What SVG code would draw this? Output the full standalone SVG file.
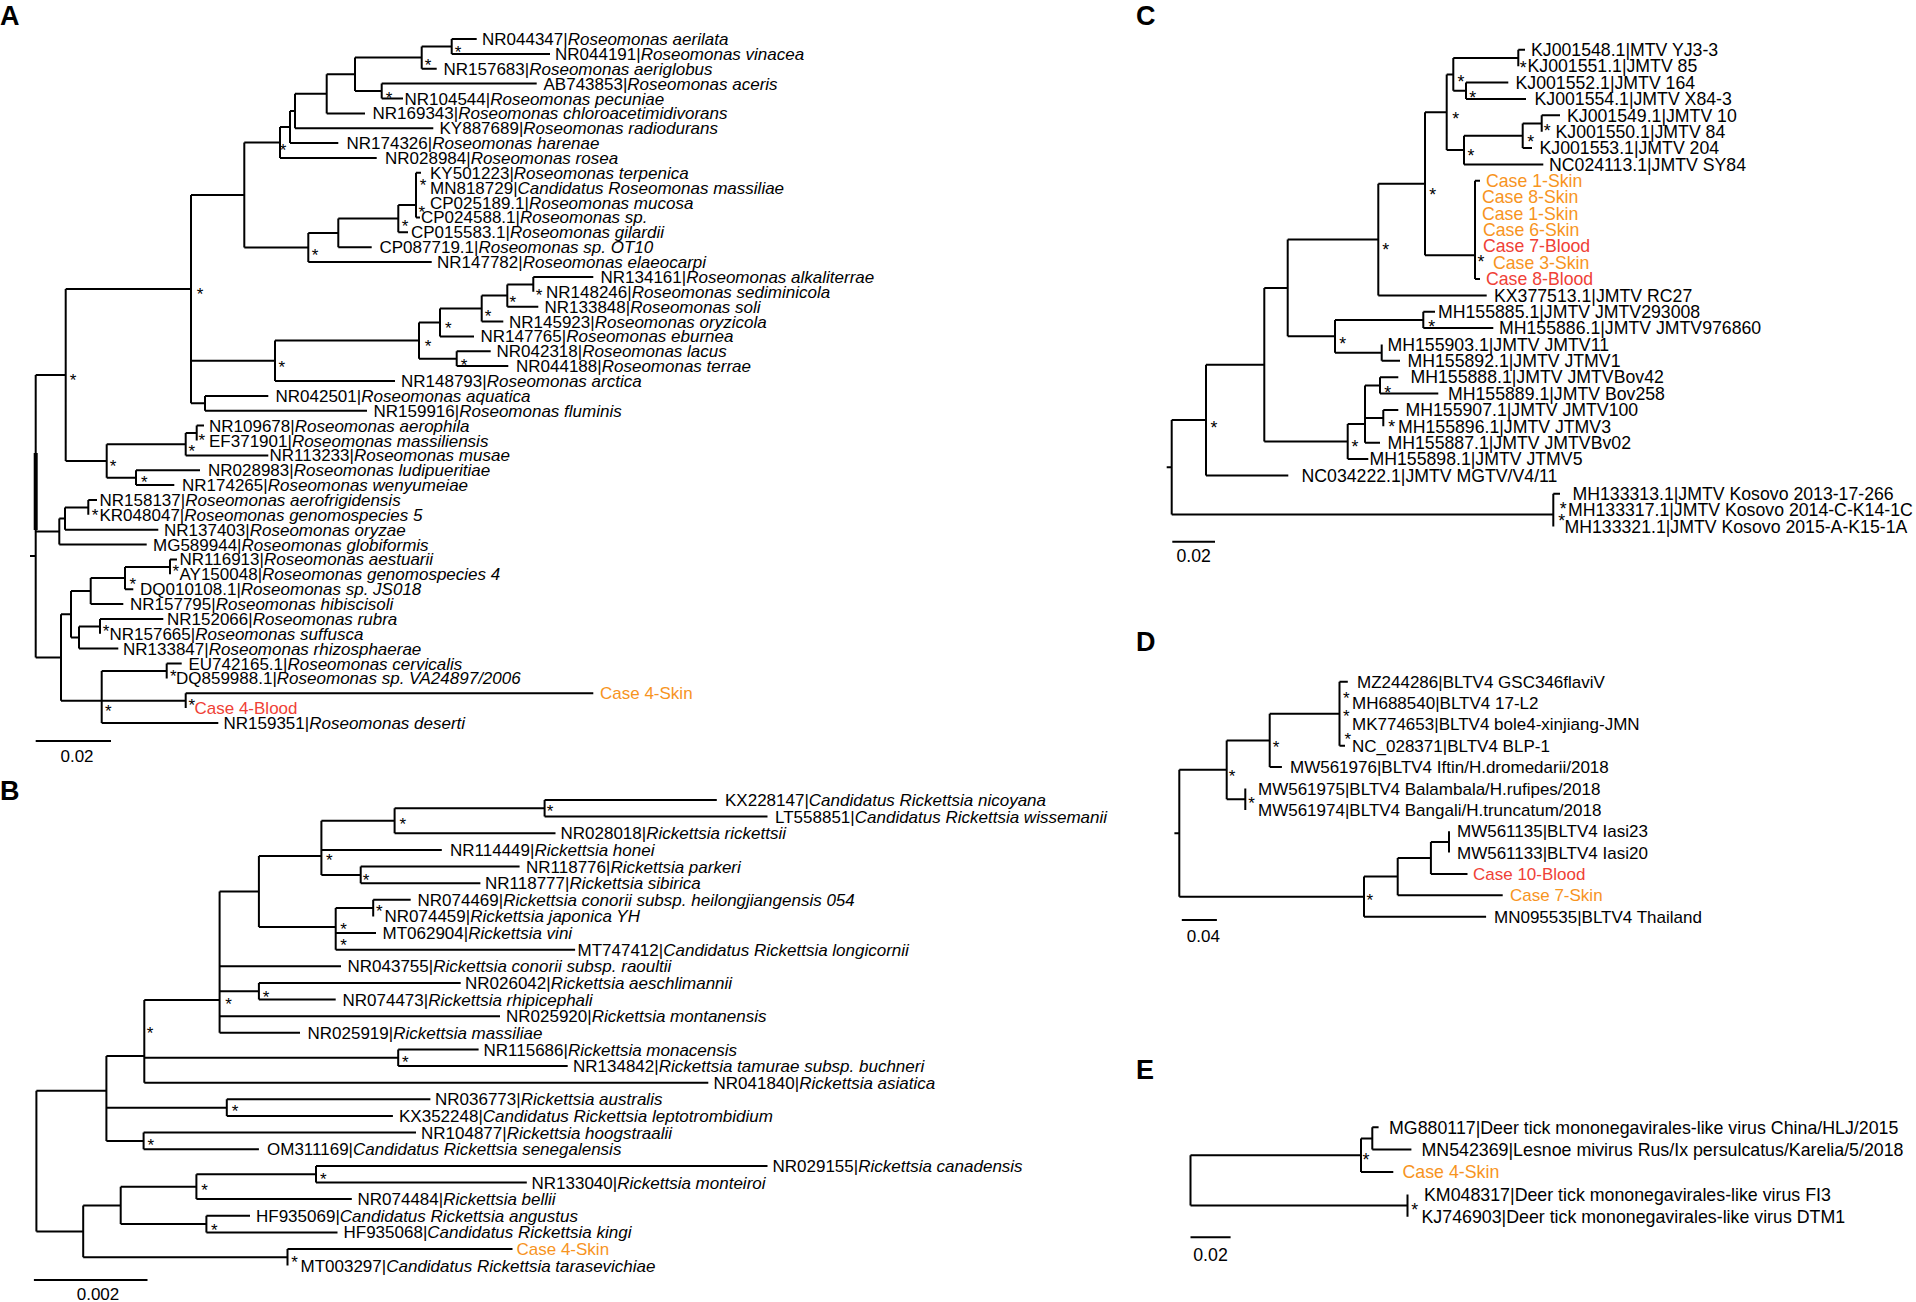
<svg xmlns="http://www.w3.org/2000/svg" width="1916" height="1302" viewBox="0 0 1916 1302">
<style>
text{font-family:"Liberation Sans",Arial,Helvetica,sans-serif;font-size:17px;fill:#000}
.c text{font-size:17.7px}
.e text{font-size:17.8px}
.i{font-style:italic}
.o{fill:#F7941E}
.r{fill:#EF4136}
.a{text-anchor:middle}
.m{text-anchor:middle}
g text.lbl{font-weight:bold;font-size:27px}
path{fill:none;stroke:#000;stroke-width:2}
</style>
<rect width="1916" height="1302" fill="#fff"/>

<!-- ===== Panel A ===== -->
<g id="panelA">
<text class="lbl" x="0" y="25">A</text>
<g id="A-connectors">
<path d="M451.7 39H476.7M451.7 53.9H550M421.7 68.7H436.7M381.7 83.6H536.7M381.7 98.5H403M326.7 113.4H365M295 128.2H433.3M290 143.1H338.3M280 158H376.7M416 172.8H421M416 217.4H420M398.3 232.3H408M338.3 247.2H371.7M308.3 262.1H431.7M533.3 276.9H593.3M507.3 306.7H538.3M481.7 321.5H503.3M440 336.4H474M456.7 351.3H490.7M456.7 366.1H508.3M275 381H395M205 395.9H268.3M205 410.7H367M196.7 425.6H204M185.7 455.4H268.3M136 470.2H200M136 485.1H174.3M88.3 500H97M65 529.7H158.3M59.3 544.6H146.7M170 559.4H177M125 589.2H133.3M90.7 604H123.3M100 618.9H163.3M79 648.6H118.3M166.7 663.5H181.7M185.7 693.3H593.3M101.7 723H218.3"/>
<path d="M421.7 46.4H451.7M451.7 39V53.9M355 57.6H421.7M421.7 46.4V68.7M355 91.1H381.7M381.7 83.6V98.5M326.7 74.3H355M355 57.6V91.1M295 93.8H326.7M326.7 74.3V113.4M290 111H295M295 93.8V128.2M280 127H290M290 111V143.1M244.3 142.5H280M280 127V158M398.3 205H416M416 172.8V217.4M338.3 218.6H398.3M398.3 205V232.3M308.3 232.9H338.3M338.3 218.6V247.2M244.3 247.5H308.3M308.3 232.9V262.1M191 195H244.3M244.3 142.5V247.5M507.3 284.4H533.3M533.3 276.9V291.8M481.7 295.5H507.3M507.3 284.4V306.7M440 308.5H481.7M481.7 295.5V321.5M419 322.5H440M440 308.5V336.4M419 358.7H456.7M456.7 351.3V366.1M275 340.6H419M419 322.5V358.7M191 360.8H275M275 340.6V381M191 403.3H205M205 395.9V410.7M65.7 289H191M191 195V403.3M185.7 433H196.7M196.7 425.6V440.5M106.7 444.2H185.7M185.7 433V455.4M106.7 477.7H136M136 470.2V485.1M65.7 461H106.7M106.7 444.2V477.7M35.7 375H65.7M65.7 289V461M65 507.4H88.3M88.3 500V514.8M59.3 518.6H65M65 507.4V529.7M35.7 531.6H59.3M59.3 518.6V544.6M125 566.9H170M170 559.4V574.3M90.7 578H125M125 566.9V589.2M71 591H90.7M90.7 578V604M79 626.4H100M100 618.9V633.8M71 637.5H79M79 626.4V648.6M61 614.3H71M71 591V637.5M101.7 671H166.7M166.7 663.5V678.4M101.7 700.7H185.7M185.7 693.3V708.1M61 700.7H101.7M101.7 671V723M35.7 657.5H61M61 614.3V700.7M35.7 375V657.5M30 556H35.7"/>
<path d="M35.7 453V530" style="stroke-width:4"/>
<path d="M35.7 741H111"/>
</g>
<g id="A-support">
<text class="a" x="458" y="58">*</text><text class="a" x="428" y="71">*</text><text class="a" x="389" y="104">*</text><text class="a" x="283" y="156">*</text><text class="a" x="200" y="300">*</text><text class="a" x="73" y="386">*</text><text class="a" x="315" y="261">*</text><text class="a" x="405" y="232">*</text><text class="a" x="421.7" y="218">*</text><text class="a" x="423" y="191">*</text><text class="a" x="539" y="301">*</text><text class="a" x="512.7" y="308">*</text><text class="a" x="488" y="322">*</text><text class="a" x="448.3" y="334">*</text><text class="a" x="428" y="352">*</text><text class="a" x="464" y="370.7">*</text><text class="a" x="281.7" y="373.3">*</text><text class="a" x="113" y="472">*</text><text class="a" x="201.7" y="445.7">*</text><text class="a" x="191.7" y="457">*</text><text class="a" x="144.3" y="488">*</text><text class="a" x="95" y="521">*</text><text class="a" x="175.7" y="577">*</text><text class="a" x="132.7" y="589.7">*</text><text class="a" x="106" y="637">*</text><text class="a" x="173.3" y="681.7">*</text><text class="a" x="191.7" y="710.7">*</text><text class="a" x="108.3" y="717">*</text>
</g>
<g id="A-leaves">
<text x="482" y="45">NR044347|<tspan class="i">Roseomonas aerilata</tspan></text>
<text x="555" y="59.9">NR044191|<tspan class="i">Roseomonas vinacea</tspan></text>
<text x="443.5" y="74.7">NR157683|<tspan class="i">Roseomonas aeriglobus</tspan></text>
<text x="543.5" y="89.6">AB743853|<tspan class="i">Roseomonas aceris</tspan></text>
<text x="404.5" y="104.5">NR104544|<tspan class="i">Roseomonas pecuniae</tspan></text>
<text x="372.5" y="119.4">NR169343|<tspan class="i">Roseomonas chloroacetimidivorans</tspan></text>
<text x="439.5" y="134.2">KY887689|<tspan class="i">Roseomonas radiodurans</tspan></text>
<text x="346.5" y="149.1">NR174326|<tspan class="i">Roseomonas harenae</tspan></text>
<text x="385" y="164">NR028984|<tspan class="i">Roseomonas rosea</tspan></text>
<text x="430" y="178.8">KY501223|<tspan class="i">Roseomonas terpenica</tspan></text>
<text x="430" y="193.7">MN818729|<tspan class="i">Candidatus Roseomonas massiliae</tspan></text>
<text x="430" y="208.6">CP025189.1|<tspan class="i">Roseomonas mucosa</tspan></text>
<text x="421" y="223.4">CP024588.1|<tspan class="i">Roseomonas sp.</tspan></text>
<text x="411" y="238.3">CP015583.1|<tspan class="i">Roseomonas gilardii</tspan></text>
<text x="379.5" y="253.2">CP087719.1|<tspan class="i">Roseomonas sp. OT10</tspan></text>
<text x="437" y="268.1">NR147782|<tspan class="i">Roseomonas elaeocarpi</tspan></text>
<text x="600.5" y="282.9">NR134161|<tspan class="i">Roseomonas alkaliterrae</tspan></text>
<text x="546" y="297.8">NR148246|<tspan class="i">Roseomonas sediminicola</tspan></text>
<text x="544.5" y="312.7">NR133848|<tspan class="i">Roseomonas soli</tspan></text>
<text x="509" y="327.5">NR145923|<tspan class="i">Roseomonas oryzicola</tspan></text>
<text x="480.5" y="342.4">NR147765|<tspan class="i">Roseomonas eburnea</tspan></text>
<text x="496.5" y="357.3">NR042318|<tspan class="i">Roseomonas lacus</tspan></text>
<text x="516" y="372.1">NR044188|<tspan class="i">Roseomonas terrae</tspan></text>
<text x="401" y="387">NR148793|<tspan class="i">Roseomonas arctica</tspan></text>
<text x="275.5" y="401.9">NR042501|<tspan class="i">Roseomonas aquatica</tspan></text>
<text x="373.5" y="416.7">NR159916|<tspan class="i">Roseomonas fluminis</tspan></text>
<text x="209" y="431.6">NR109678|<tspan class="i">Roseomonas aerophila</tspan></text>
<text x="209" y="446.5">EF371901|<tspan class="i">Roseomonas massiliensis</tspan></text>
<text x="269.5" y="461.4">NR113233|<tspan class="i">Roseomonas musae</tspan></text>
<text x="208" y="476.2">NR028983|<tspan class="i">Roseomonas ludipueritiae</tspan></text>
<text x="182" y="491.1">NR174265|<tspan class="i">Roseomonas wenyumeiae</tspan></text>
<text x="99.5" y="506">NR158137|<tspan class="i">Roseomonas aerofrigidensis</tspan></text>
<text x="99.5" y="520.8">KR048047|<tspan class="i">Roseomonas genomospecies 5</tspan></text>
<text x="164" y="535.7">NR137403|<tspan class="i">Roseomonas oryzae</tspan></text>
<text x="153" y="550.6">MG589944|<tspan class="i">Roseomonas globiformis</tspan></text>
<text x="179.5" y="565.4">NR116913|<tspan class="i">Roseomonas aestuarii</tspan></text>
<text x="179.5" y="580.3">AY150048|<tspan class="i">Roseomonas genomospecies 4</tspan></text>
<text x="140" y="595.2">DQ010108.1|<tspan class="i">Roseomonas sp. JS018</tspan></text>
<text x="130" y="610">NR157795|<tspan class="i">Roseomonas hibiscisoli</tspan></text>
<text x="167" y="624.9">NR152066|<tspan class="i">Roseomonas rubra</tspan></text>
<text x="109.5" y="639.8">NR157665|<tspan class="i">Roseomonas suffusca</tspan></text>
<text x="123" y="654.6">NR133847|<tspan class="i">Roseomonas rhizosphaerae</tspan></text>
<text x="188.5" y="669.5">EU742165.1|<tspan class="i">Roseomonas cervicalis</tspan></text>
<text x="176" y="684.4">DQ859988.1|<tspan class="i">Roseomonas sp. VA24897/2006</tspan></text>
<text class="o" x="600" y="699.3">Case 4-Skin</text>
<text class="r" x="194.5" y="714.1">Case 4-Blood</text>
<text x="223.5" y="729">NR159351|<tspan class="i">Roseomonas deserti</tspan></text>
<text class="m" x="77" y="761.7">0.02</text>
</g>
</g>

<!-- ===== Panel B ===== -->
<g id="panelB">
<text class="lbl" x="0" y="800">B</text>
<g id="B-connectors">
<path d="M544.6 800H716.8M544.6 816.6H767.5M394.6 833.3H555.5M321.4 849.9H441.8M360.7 866.5H519.6M360.7 883.2H480.4M373.2 899.8H410.7M335.7 933H376M335.7 949.7H575.1M219.6 966.3H341M258.9 982.9H460.7M258.9 999.6H335.7M219.6 1016.2H500M219.6 1032.8H300M398.2 1049.5H478.6M398.2 1066.1H567.7M144.3 1082.7H708.3M226.8 1099.3H430.4M226.8 1116H392.9M143.6 1132.6H416M143.6 1149.2H258.9M316 1165.9H767.5M316 1182.5H526.8M196.4 1199.1H351.8M206.4 1215.8H250M206.4 1232.4H337.5M287.5 1249H512.5"/>
<path d="M394.6 808.3H544.6M544.6 800V816.6M321.4 820.8H394.6M394.6 808.3V833.3M321.4 874.9H360.7M360.7 866.5V883.2M258.9 856H321.4M321.4 820.8V874.9M335.7 908.1H373.2M373.2 899.8V916.4M258.9 927H335.7M335.7 908.1V949.7M219.6 891.5H258.9M258.9 856V927M219.6 991.3H258.9M258.9 982.9V999.6M144.3 1000H219.6M219.6 891.5V1032.8M144.3 1057.8H398.2M398.2 1049.5V1066.1M106.4 1056H144.3M144.3 1000V1082.7M106.4 1107.7H226.8M226.8 1099.3V1116M106.4 1140.9H143.6M143.6 1132.6V1149.2M36.4 1090.7H106.4M106.4 1056V1140.9M196.4 1174.2H316M316 1165.9V1182.5M120.7 1186.7H196.4M196.4 1174.2V1199.1M120.7 1224.1H206.4M206.4 1215.8V1232.4M83.2 1205.4H120.7M120.7 1186.7V1224.1M83.2 1257.3H287.5M287.5 1249V1265.6M36.4 1231.4H83.2M83.2 1205.4V1257.3M36.4 1090.7V1231.4"/>
<path d="M33.9 1280H147.5"/>
</g>
<g id="B-support">
<text class="a" x="550" y="817.3">*</text><text class="a" x="402.9" y="829.7">*</text><text class="a" x="329.3" y="866.3">*</text><text class="a" x="366" y="885.7">*</text><text class="a" x="379.3" y="916.7">*</text><text class="a" x="343.6" y="934.7">*</text><text class="a" x="343.6" y="951.3">*</text><text class="a" x="228.6" y="1009.7">*</text><text class="a" x="266" y="1003">*</text><text class="a" x="150" y="1039">*</text><text class="a" x="405.4" y="1068.3">*</text><text class="a" x="235" y="1117.3">*</text><text class="a" x="150.7" y="1150.7">*</text><text class="a" x="204.6" y="1196.3">*</text><text class="a" x="323.2" y="1185">*</text><text class="a" x="214.3" y="1235.7">*</text><text class="a" x="294.6" y="1268">*</text>
</g>
<g id="B-leaves">
<text x="725" y="806">KX228147|<tspan class="i">Candidatus Rickettsia nicoyana</tspan></text>
<text x="775" y="822.6">LT558851|<tspan class="i">Candidatus Rickettsia wissemanii</tspan></text>
<text x="560.5" y="839.3">NR028018|<tspan class="i">Rickettsia rickettsii</tspan></text>
<text x="450" y="855.9">NR114449|<tspan class="i">Rickettsia honei</tspan></text>
<text x="526" y="872.5">NR118776|<tspan class="i">Rickettsia parkeri</tspan></text>
<text x="485" y="889.2">NR118777|<tspan class="i">Rickettsia sibirica</tspan></text>
<text x="417.5" y="905.8">NR074469|<tspan class="i">Rickettsia conorii subsp. heilongjiangensis 054</tspan></text>
<text x="384.5" y="922.4">NR074459|<tspan class="i">Rickettsia japonica YH</tspan></text>
<text x="382.5" y="939">MT062904|<tspan class="i">Rickettsia vini</tspan></text>
<text x="577.5" y="955.7">MT747412|<tspan class="i">Candidatus Rickettsia longicornii</tspan></text>
<text x="347.5" y="972.3">NR043755|<tspan class="i">Rickettsia conorii subsp. raoultii</tspan></text>
<text x="465" y="988.9">NR026042|<tspan class="i">Rickettsia aeschlimannii</tspan></text>
<text x="342.5" y="1005.6">NR074473|<tspan class="i">Rickettsia rhipicephali</tspan></text>
<text x="506" y="1022.2">NR025920|<tspan class="i">Rickettsia montanensis</tspan></text>
<text x="307.5" y="1038.8">NR025919|<tspan class="i">Rickettsia massiliae</tspan></text>
<text x="483.5" y="1055.5">NR115686|<tspan class="i">Rickettsia monacensis</tspan></text>
<text x="573" y="1072.1">NR134842|<tspan class="i">Rickettsia tamurae subsp. buchneri</tspan></text>
<text x="713.5" y="1088.7">NR041840|<tspan class="i">Rickettsia asiatica</tspan></text>
<text x="435" y="1105.3">NR036773|<tspan class="i">Rickettsia australis</tspan></text>
<text x="399" y="1122">KX352248|<tspan class="i">Candidatus Rickettsia leptotrombidium</tspan></text>
<text x="421" y="1138.6">NR104877|<tspan class="i">Rickettsia hoogstraalii</tspan></text>
<text x="267" y="1155.2">OM311169|<tspan class="i">Candidatus Rickettsia senegalensis</tspan></text>
<text x="772.5" y="1171.9">NR029155|<tspan class="i">Rickettsia canadensis</tspan></text>
<text x="531.5" y="1188.5">NR133040|<tspan class="i">Rickettsia monteiroi</tspan></text>
<text x="357.5" y="1205.1">NR074484|<tspan class="i">Rickettsia bellii</tspan></text>
<text x="256" y="1221.8">HF935069|<tspan class="i">Candidatus Rickettsia angustus</tspan></text>
<text x="343.5" y="1238.4">HF935068|<tspan class="i">Candidatus Rickettsia kingi</tspan></text>
<text class="o" x="516.5" y="1255">Case 4-Skin</text>
<text x="300.5" y="1271.6">MT003297|<tspan class="i">Candidatus Rickettsia tarasevichiae</tspan></text>
<text class="m" x="98" y="1300">0.002</text>
</g>
</g>

<!-- ===== Panel C ===== -->
<g id="panelC" class="c">
<text class="lbl" x="1136" y="25">C</text>
<g id="C-connectors">
<path d="M1518.3 49.8H1525M1466 82.5H1508.3M1466 98.9H1526M1541.7 115.3H1560M1522.7 148H1532M1464 164.4H1543.3M1475 180.8H1480M1475 279H1480M1378.3 295.4H1486.7M1423.3 311.7H1435M1423.3 328.1H1493.3M1381.7 360.8H1400M1380 377.2H1398.3M1380 393.6H1438.3M1383.3 409.9H1398.3M1365 442.7H1380M1347.7 459H1368.3M1206 475.4H1288.3M1553.3 493.8H1560"/>
<path d="M1453.3 58H1518.3M1518.3 49.8V66.2M1453.3 90.7H1466M1466 82.5V98.9M1446.7 74.4H1453.3M1453.3 58V90.7M1522.7 123.5H1541.7M1541.7 115.3V131.7M1464 135.8H1522.7M1522.7 123.5V148M1446.7 150.1H1464M1464 135.8V164.4M1425 112.3H1446.7M1446.7 74.4V150.1M1425 255.3H1475M1475 180.8V279M1378.3 183.8H1425M1425 112.3V255.3M1287.7 239.6H1378.3M1378.3 183.8V295.4M1335 319.9H1423.3M1423.3 311.7V328.1M1335 352.7H1381.7M1381.7 344.5V360.8M1287.7 336.3H1335M1335 319.9V352.7M1264.3 288H1287.7M1287.7 239.6V336.3M1365 385.4H1380M1380 377.2V393.6M1365 418.1H1383.3M1383.3 409.9V426.3M1347.7 424H1365M1365 385.4V442.7M1264.3 441.5H1347.7M1347.7 424V459M1206 364.8H1264.3M1264.3 288V441.5M1171.7 420.1H1206M1206 364.8V475.4M1171.7 514.5H1553.3M1553.3 493.8V526.5M1171.7 420.1V514.5M1166.7 467.3H1171.7"/>
<path d="M1172.3 541.8H1215"/>
</g>
<g id="C-support">
<text class="a" x="1214" y="433.7">*</text><text class="a" x="1385.7" y="255.5">*</text><text class="a" x="1432.7" y="201">*</text><text class="a" x="1455.7" y="124.6">*</text><text class="a" x="1461" y="88.3">*</text><text class="a" x="1472.7" y="104.3">*</text><text class="a" x="1523.3" y="73.7">*</text><text class="a" x="1471" y="161.7">*</text><text class="a" x="1530.7" y="147.9">*</text><text class="a" x="1547.3" y="137">*</text><text class="a" x="1481" y="267.9">*</text><text class="a" x="1342.7" y="350">*</text><text class="a" x="1431.7" y="333.4">*</text><text class="a" x="1355" y="453.4">*</text><text class="a" x="1387.7" y="398.8">*</text><text class="a" x="1391.7" y="432.6">*</text><text class="a" x="1563.3" y="514.5">*</text><text class="a" x="1561.7" y="527.2">*</text>
</g>
<g id="C-leaves">
<text x="1531" y="56">KJ001548.1|MTV YJ3-3</text>
<text x="1527.5" y="72.4">KJ001551.1|JMTV 85</text>
<text x="1515.5" y="88.7">KJ001552.1|JMTV 164</text>
<text x="1534.5" y="105.1">KJ001554.1|JMTV X84-3</text>
<text x="1567" y="121.5">KJ001549.1|JMTV 10</text>
<text x="1555.5" y="137.9">KJ001550.1|JMTV 84</text>
<text x="1539.5" y="154.2">KJ001553.1|JMTV 204</text>
<text x="1549" y="170.6">NC024113.1|JMTV SY84</text>
<text class="o" x="1486" y="187">Case 1-Skin</text>
<text class="o" x="1482" y="203.3">Case 8-Skin</text>
<text class="o" x="1482" y="219.7">Case 1-Skin</text>
<text class="o" x="1483" y="236.1">Case 6-Skin</text>
<text class="r" x="1483" y="252.4">Case 7-Blood</text>
<text class="o" x="1493" y="268.8">Case 3-Skin</text>
<text class="r" x="1486" y="285.2">Case 8-Blood</text>
<text x="1494" y="301.6">KX377513.1|JMTV RC27</text>
<text x="1438" y="317.9">MH155885.1|JMTV JMTV293008</text>
<text x="1499" y="334.3">MH155886.1|JMTV JMTV976860</text>
<text x="1387.5" y="350.7">MH155903.1|JMTV JMTV11</text>
<text x="1407.5" y="367">MH155892.1|JMTV JTMV1</text>
<text x="1410.5" y="383.4">MH155888.1|JMTV JMTVBov42</text>
<text x="1448" y="399.8">MH155889.1|JMTV Bov258</text>
<text x="1405.5" y="416.1">MH155907.1|JMTV JMTV100</text>
<text x="1398" y="432.5">MH155896.1|JMTV JTMV3</text>
<text x="1387.5" y="448.9">MH155887.1|JMTV JMTVBv02</text>
<text x="1369.5" y="465.2">MH155898.1|JMTV JTMV5</text>
<text x="1301.5" y="481.6">NC034222.1|JMTV MGTV/V4/11</text>
<text x="1572.5" y="500">MH133313.1|JMTV Kosovo 2013-17-266</text>
<text x="1568" y="516.4">MH133317.1|JMTV Kosovo 2014-C-K14-1C</text>
<text x="1564.5" y="532.7">MH133321.1|JMTV Kosovo 2015-A-K15-1A</text>
<text class="m" x="1193.7" y="562">0.02</text>
</g>
</g>

<!-- ===== Panel D ===== -->
<g id="panelD">
<text class="lbl" x="1136" y="651">D</text>
<g id="D-connectors">
<path d="M1339.5 681.7H1347.8M1339.5 745.8H1345M1269.7 767.1H1281.9M1430.9 873.9H1467.5M1397.7 895.3H1502.7M1364 916.7H1486.1"/>
<path d="M1269.7 713.7H1339.5M1339.5 681.7V745.8M1226.7 740.4H1269.7M1269.7 713.7V767.1M1226.7 799.2H1245.3M1245.3 788.5V809.9M1179.3 769.8H1226.7M1226.7 740.4V799.2M1430.9 841.9H1449M1449 831.2V852.6M1397.7 857.9H1430.9M1430.9 841.9V873.9M1364 876.6H1397.7M1397.7 857.9V895.3M1179.3 896.7H1364M1364 876.6V916.7M1179.3 769.8V896.7M1174.4 833.2H1179.3"/>
<path d="M1181.8 920H1216.9"/>
</g>
<g id="D-support">
<text class="a" x="1232" y="781.7">*</text><text class="a" x="1369.8" y="905.7">*</text><text class="a" x="1276" y="753">*</text><text class="a" x="1346.4" y="704">*</text><text class="a" x="1346.4" y="721.7">*</text><text class="a" x="1347.8" y="745">*</text><text class="a" x="1251.6" y="809">*</text>
</g>
<g id="D-leaves">
<text x="1357" y="687.7">MZ244286|BLTV4 GSC346flaviV</text>
<text x="1352" y="709.1">MH688540|BLTV4 17-L2</text>
<text x="1352" y="730.4">MK774653|BLTV4 bole4-xinjiang-JMN</text>
<text x="1352" y="751.8">NC_028371|BLTV4 BLP-1</text>
<text x="1290" y="773.1">MW561976|BLTV4 Iftin/H.dromedarii/2018</text>
<text x="1258" y="794.5">MW561975|BLTV4 Balambala/H.rufipes/2018</text>
<text x="1258" y="815.9">MW561974|BLTV4 Bangali/H.truncatum/2018</text>
<text x="1457" y="837.2">MW561135|BLTV4 Iasi23</text>
<text x="1457" y="858.6">MW561133|BLTV4 Iasi20</text>
<text class="r" x="1473" y="879.9">Case 10-Blood</text>
<text class="o" x="1510" y="901.3">Case 7-Skin</text>
<text x="1494" y="922.7">MN095535|BLTV4 Thailand</text>
<text class="m" x="1203.3" y="941.7">0.04</text>
</g>
</g>

<!-- ===== Panel E ===== -->
<g id="panelE" class="e">
<text class="lbl" x="1136" y="1079">E</text>
<g id="E-connectors">
<path d="M1372.3 1127.3H1378.6M1372.3 1149.6H1411.4M1361 1172H1393.3"/>
<path d="M1361 1138.5H1372.3M1372.3 1127.3V1149.6M1190.5 1155.3H1361M1361 1138.5V1172M1190.5 1205.6H1407.5M1407.5 1194.4V1216.7M1190.5 1155.3V1205.6"/>
<path d="M1190.5 1237.3H1230.6"/>
</g>
<g id="E-support">
<text class="a" x="1365.9" y="1166.3">*</text><text class="a" x="1414.8" y="1215.7">*</text>
</g>
<g id="E-leaves">
<text x="1389" y="1133.5">MG880117|Deer tick mononegavirales-like virus China/HLJ/2015</text>
<text x="1421.5" y="1155.8">MN542369|Lesnoe mivirus Rus/Ix persulcatus/Karelia/5/2018</text>
<text class="o" x="1402.5" y="1178.2">Case 4-Skin</text>
<text x="1424" y="1200.6">KM048317|Deer tick mononegavirales-like virus FI3</text>
<text x="1421.5" y="1222.9">KJ746903|Deer tick mononegavirales-like virus DTM1</text>
<text class="m" x="1210.5" y="1260.5">0.02</text>
</g>
</g>
</svg>
